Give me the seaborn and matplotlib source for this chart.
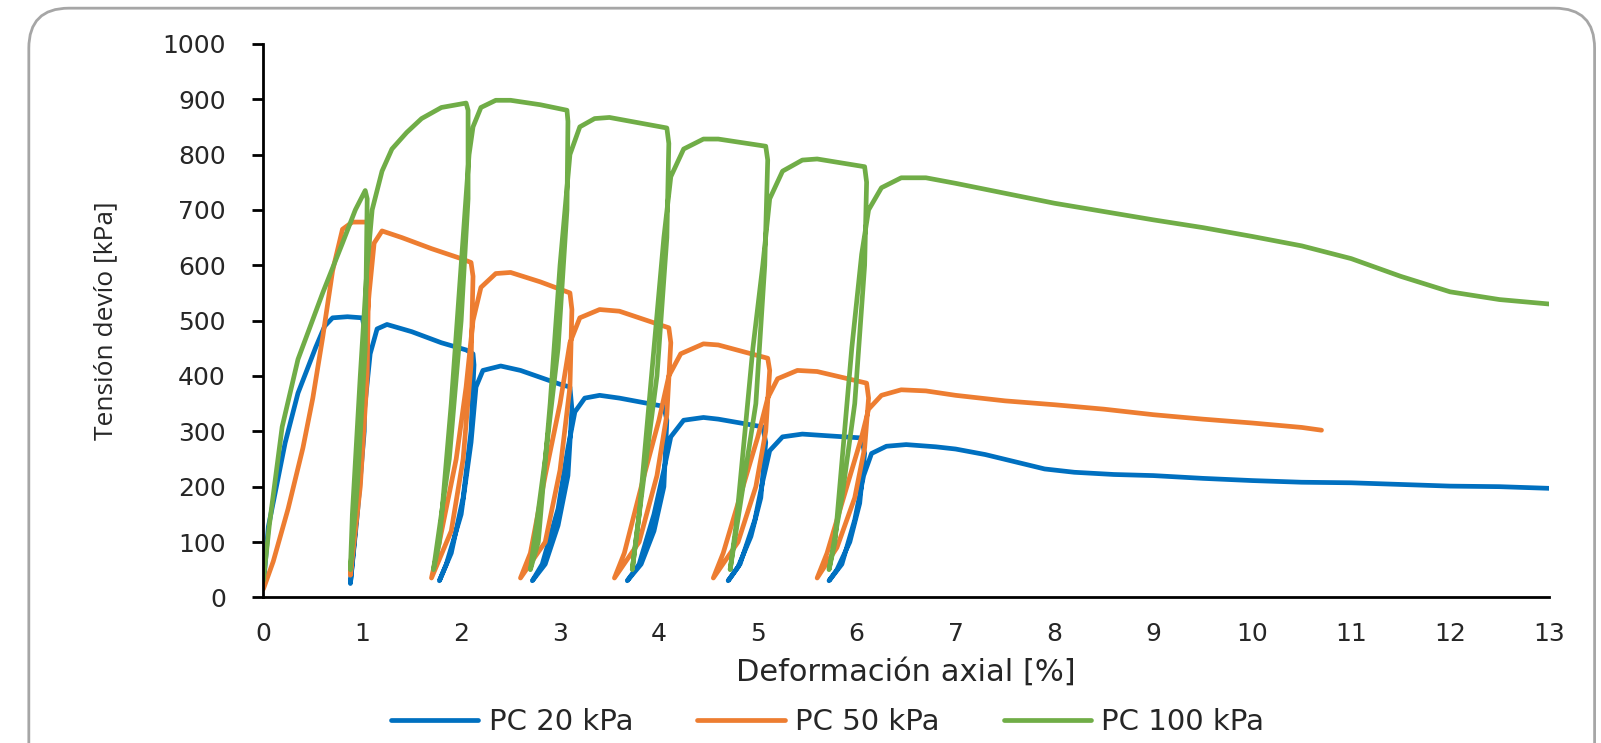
import numpy as np
import pandas as pd
import seaborn as sns
import matplotlib.pyplot as plt
from matplotlib.patches import FancyBboxPatch

# --- data (strain %, deviator stress kPa) ---
pc20_x = [0, 0.05, 0.22, 0.35, 0.53, 0.62, 0.7, 0.85, 1.0,
          1.03, 1.02, 0.95, 0.88,
          0.93, 1.0, 1.08, 1.15, 1.25, 1.5, 1.8, 2.05, 2.12,
          2.13, 2.1, 2.02, 1.9, 1.78,
          1.85, 2.0, 2.1, 2.15, 2.22, 2.4, 2.6, 3.0, 3.1,
          3.12, 3.08, 2.98, 2.85, 2.72,
          2.82, 2.98, 3.08, 3.15, 3.25, 3.4, 3.6, 4.05,
          4.08, 4.05, 3.95, 3.82, 3.68,
          3.8, 3.95, 4.05, 4.12, 4.25, 4.45, 4.6, 5.05,
          5.08, 5.03, 4.93, 4.8, 4.7,
          4.82, 4.97, 5.05, 5.12, 5.25, 5.45, 5.7, 6.05,
          6.08, 6.03, 5.93, 5.8, 5.72,
          5.85, 5.98, 6.07, 6.15, 6.3, 6.5, 6.8, 7.0, 7.3, 7.6, 7.9, 8.2,
          8.6, 9.0, 9.5, 10.0, 10.5, 11.0, 11.5, 12.0, 12.5, 13.0]
pc20_y = [20, 127, 279, 369, 452, 490, 505, 507, 505,
          480, 300, 150, 25,
          120, 300, 440, 485, 493, 480, 460, 447, 440,
          420, 300, 180, 80, 30,
          60, 150, 280, 380, 410, 418, 410, 385, 380,
          340, 220, 130, 60, 30,
          60, 160, 270, 335, 360, 365, 360, 345,
          320, 200, 120, 60, 30,
          60, 150, 230, 290, 320, 325, 322, 308,
          280, 180, 110, 55, 30,
          60, 140, 210, 265, 290, 295, 292, 288,
          260, 170, 100, 50, 30,
          60, 140, 220, 260, 273, 276, 272, 268, 258, 245, 232, 226,
          222, 220, 215, 211, 208, 207, 204, 201, 200, 197]

pc50_x = [0, 0.1, 0.25, 0.4, 0.5, 0.6, 0.7, 0.8, 0.9, 1.05,
          1.07, 1.05, 0.98, 0.88,
          0.92, 1.0, 1.07, 1.12, 1.2, 1.4, 1.7, 2.0, 2.1,
          2.12, 2.1, 2.02, 1.9, 1.7,
          1.78, 1.95, 2.05, 2.12, 2.2, 2.35, 2.5, 2.8, 3.1,
          3.12, 3.1, 3.0, 2.85, 2.6,
          2.7, 2.85, 3.0, 3.1, 3.2, 3.4, 3.6, 4.1,
          4.12, 4.08, 3.98, 3.8, 3.55,
          3.65, 3.85, 4.0, 4.1, 4.22, 4.45, 4.6, 5.1,
          5.12, 5.08, 4.98, 4.8, 4.55,
          4.65, 4.85, 5.0, 5.1, 5.2, 5.4, 5.6, 6.1,
          6.12, 6.08, 5.98, 5.8, 5.6,
          5.7, 5.9, 6.05, 6.12, 6.25, 6.45, 6.7, 7.0, 7.5, 8.0, 8.5,
          9.0, 9.5, 10.0, 10.5, 10.7]
pc50_y = [15, 65, 160, 270, 360, 470, 590, 665, 678, 678,
          650, 400, 200, 40,
          150, 400, 550, 640, 662, 650, 630, 612, 605,
          580, 420, 250, 120, 35,
          100, 250, 380, 500, 560, 585, 587, 570, 550,
          520, 380, 230, 100, 35,
          80, 220, 350, 460, 505, 520, 517, 487,
          460, 330, 220, 100, 35,
          80, 220, 320, 400, 440, 458, 456, 432,
          410, 300, 200, 100, 35,
          80, 200, 290, 360, 395, 410, 408, 387,
          360, 270, 180, 90, 35,
          80, 200, 290, 340, 365, 375, 373, 365, 355, 348, 340,
          330, 322, 315, 307, 302]

pc100_x = [0, 0.06, 0.19, 0.35, 0.6, 0.8, 0.93, 1.03,
           1.05, 1.03, 0.95, 0.88,
           0.9, 0.98, 1.05, 1.1, 1.2, 1.3, 1.45, 1.6, 1.8, 2.05,
           2.07, 2.07, 2.0, 1.88, 1.72,
           1.78, 1.9, 2.0, 2.08, 2.12, 2.2, 2.35, 2.5, 2.8, 3.07,
           3.08, 3.07, 2.98, 2.85, 2.7,
           2.78, 2.9, 3.0, 3.1, 3.2, 3.35, 3.5, 4.08,
           4.1, 4.08, 3.98, 3.85, 3.73,
           3.8, 3.95, 4.05, 4.12, 4.25, 4.45, 4.6, 5.08,
           5.1, 5.07, 4.98, 4.85, 4.72,
           4.78, 4.95, 5.05, 5.12, 5.25, 5.45, 5.6, 6.08,
           6.1, 6.08, 5.98, 5.85, 5.72,
           5.78, 5.95, 6.05, 6.12, 6.25, 6.45, 6.7, 7.0, 7.5, 8.0, 8.5,
           9.0, 9.5, 10.0, 10.5, 11.0, 11.5, 12.0, 12.5, 13.0]
pc100_y = [30, 130, 308, 430, 550, 640, 700, 735,
           720, 450, 200, 50,
           150, 400, 600, 700, 770, 810, 840, 865, 885, 893,
           880, 720, 500, 250, 50,
           100, 350, 600, 800, 850, 885, 898, 898, 890, 880,
           860, 700, 450, 250, 50,
           100, 350, 600, 800, 850, 865, 867, 848,
           820, 650, 400, 220, 50,
           150, 450, 650, 760, 810, 828, 828, 815,
           790, 600, 350, 200, 50,
           130, 450, 600, 720, 770, 790, 792, 778,
           750, 600, 350, 180, 50,
           100, 450, 620, 700, 740, 758, 758, 748, 730, 712, 697,
           682, 668, 652, 635, 612, 580, 552, 538, 530]

labels = ['PC 20 kPa', 'PC 50 kPa', 'PC 100 kPa']
colors = ['#0070C0', '#ED7D31', '#70AD47']

series = [(pc20_x, pc20_y), (pc50_x, pc50_y), (pc100_x, pc100_y)]

sns.set_style('white')
plt.rcParams['font.family'] = ['DejaVu Sans']

fig = plt.figure(figsize=(16.01, 7.43), dpi=100)
ax = fig.add_axes([0.1645, 0.196, 0.803, 0.745])

# chart-area frame with rounded corners (runs off the bottom edge)
frame = FancyBboxPatch((0.018, -0.2), 0.978, 1.189, boxstyle='round,pad=0,rounding_size=0.025',
                       transform=fig.transFigure, facecolor='none', edgecolor='#A6A6A6',
                       linewidth=2, mutation_aspect=16.01 / 7.43, zorder=0)
fig.patches.append(frame)

for (xs, ys), lab, col in zip(series, labels, colors):
    df = pd.DataFrame({'x': xs, 'y': ys})
    sns.lineplot(data=df, x='x', y='y', sort=False, estimator=None, color=col,
                 linewidth=3.4, label=lab, ax=ax)

ax.set_xlim(0, 13)
ax.set_ylim(0, 1000)
ax.set_xticks(np.arange(0, 14, 1))
ax.set_yticks(np.arange(0, 1001, 100))
ax.tick_params(axis='y', direction='out', length=8, width=2, color='black',
               labelsize=18, labelcolor='#262626', pad=19, left=True)
ax.tick_params(axis='x', length=0, labelsize=18, labelcolor='#262626', pad=18)
for s in ['top', 'right']:
    ax.spines[s].set_visible(False)
for s in ['left', 'bottom']:
    ax.spines[s].set_linewidth(2)
    ax.spines[s].set_color('black')

ax.set_xlabel('Deformación axial [%]', fontsize=22, color='#262626', labelpad=8)
ax.set_ylabel('Tensión devío [kPa]', family=['Open Sans', 'DejaVu Sans'],
              fontsize=19, color='#262626', labelpad=32)

leg = ax.legend(loc='center', bbox_to_anchor=(0.517, 0.028), bbox_transform=fig.transFigure,
                ncol=3, frameon=False, prop={'size': 21},
                handlelength=3.0, columnspacing=2.2, handletextpad=0.35)
for t in leg.get_texts():
    t.set_color('#262626')
for h in leg.get_lines():
    h.set_linewidth(3.4)

fig.savefig('out.png', dpi=100)
